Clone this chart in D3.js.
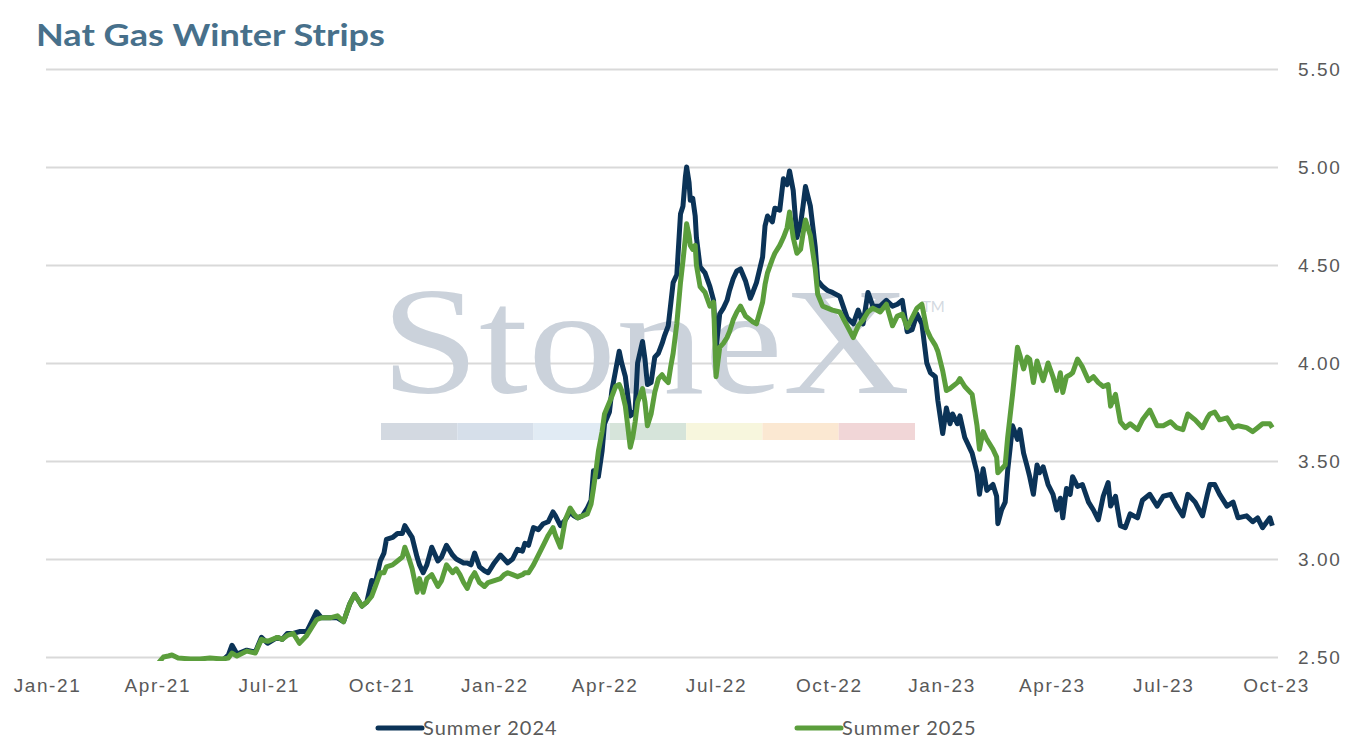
<!DOCTYPE html>
<html>
<head>
<meta charset="utf-8">
<script src="https://cdn.jsdelivr.net/npm/d3@7"></script>
<style>
  body { margin: 0; background: #fff; }
  svg { display: block; font-family: Lato, "Noto Sans", sans-serif; }
  .axis text { fill: #595959; font-size: 19px; letter-spacing: 1.6px; }
  .axis .domain { display: none; }
</style>
</head>
<body>
<div id="chart"></div>
<script>
// values
const dates = [
  "2021-04-02","2021-04-06","2021-04-10","2021-04-13","2021-04-18","2021-04-28","2021-05-06","2021-05-14",
  "2021-05-24","2021-05-29","2021-06-01","2021-06-05","2021-06-13","2021-06-20","2021-06-25","2021-06-30",
  "2021-07-08","2021-07-12","2021-07-16","2021-07-21","2021-07-26","2021-08-01","2021-08-09","2021-08-13",
  "2021-08-20","2021-08-26","2021-08-31","2021-09-05","2021-09-09","2021-09-15","2021-09-19","2021-09-23",
  "2021-09-26","2021-09-30","2021-10-03","2021-10-05","2021-10-10","2021-10-14","2021-10-18","2021-10-20",
  "2021-10-23","2021-10-26","2021-10-30","2021-11-01","2021-11-04","2021-11-07","2021-11-11","2021-11-16",
  "2021-11-19","2021-11-23","2021-11-28","2021-12-01","2021-12-04","2021-12-07","2021-12-10","2021-12-13",
  "2021-12-16","2021-12-20","2021-12-24","2021-12-27","2022-01-01","2022-01-06","2022-01-09","2022-01-12",
  "2022-01-16","2022-01-20","2022-01-24","2022-01-26","2022-01-29","2022-02-02","2022-02-06","2022-02-10",
  "2022-02-14","2022-02-18","2022-02-20","2022-02-24","2022-02-28","2022-03-04","2022-03-07","2022-03-10",
  "2022-03-14","2022-03-18","2022-03-21","2022-03-23","2022-03-25","2022-03-27","2022-03-30","2022-04-01",
  "2022-04-05","2022-04-07","2022-04-10","2022-04-13","2022-04-15","2022-04-18","2022-04-22","2022-04-24",
  "2022-04-26","2022-04-28","2022-05-02","2022-05-04","2022-05-06","2022-05-09","2022-05-12","2022-05-15",
  "2022-05-18","2022-05-20","2022-05-23","2022-05-25","2022-05-27","2022-05-30","2022-06-02","2022-06-04",
  "2022-06-06","2022-06-07","2022-06-09","2022-06-10","2022-06-12","2022-06-14","2022-06-15","2022-06-18",
  "2022-06-22","2022-06-26","2022-06-29","2022-07-01","2022-07-04","2022-07-07","2022-07-10","2022-07-12",
  "2022-07-15","2022-07-18","2022-07-21","2022-07-25","2022-07-29","2022-07-31","2022-08-03","2022-08-08",
  "2022-08-10","2022-08-12","2022-08-16","2022-08-18","2022-08-22","2022-08-25","2022-08-28","2022-08-30",
  "2022-09-02","2022-09-05","2022-09-08","2022-09-10","2022-09-12","2022-09-16","2022-09-20","2022-09-22",
  "2022-09-26","2022-09-30","2022-10-04","2022-10-10","2022-10-16","2022-10-21","2022-10-25","2022-10-29",
  "2022-11-02","2022-11-06","2022-11-12","2022-11-17","2022-11-22","2022-11-26","2022-11-30","2022-12-04",
  "2022-12-08","2022-12-12","2022-12-16","2022-12-20","2022-12-23","2022-12-27","2022-12-29","2023-01-02",
  "2023-01-05","2023-01-08","2023-01-10","2023-01-14","2023-01-16","2023-01-20","2023-01-26","2023-01-30",
  "2023-02-01","2023-02-04","2023-02-07","2023-02-12","2023-02-15","2023-02-16","2023-02-19","2023-02-22",
  "2023-02-24","2023-02-28","2023-03-04","2023-03-06","2023-03-09","2023-03-12","2023-03-14","2023-03-17",
  "2023-03-20","2023-03-22","2023-03-25","2023-03-29","2023-04-02","2023-04-05","2023-04-08","2023-04-10",
  "2023-04-13","2023-04-16","2023-04-18","2023-04-22","2023-04-26","2023-05-01","2023-05-05","2023-05-09",
  "2023-05-13","2023-05-17","2023-05-19","2023-05-23","2023-05-27","2023-05-31","2023-06-04","2023-06-10",
  "2023-06-14","2023-06-20","2023-06-26","2023-07-01","2023-07-07","2023-07-12","2023-07-17","2023-07-21",
  "2023-07-27","2023-08-02","2023-08-06","2023-08-08","2023-08-12","2023-08-16","2023-08-22","2023-08-27",
  "2023-08-31","2023-09-07","2023-09-12","2023-09-16","2023-09-20","2023-09-26","2023-09-28"
];

const summer2024 = [
  2.40,2.41,2.42,2.42,2.42,2.43,2.44,2.45,
  2.48,2.51,2.56,2.515,2.535,2.525,2.60,2.57,
  2.60,2.59,2.62,2.62,2.63,2.63,2.73,2.70,
  2.70,2.70,2.68,2.77,2.82,2.76,2.78,2.89,
  2.88,2.99,3.03,3.10,3.11,3.13,3.13,3.17,
  3.14,3.11,3.01,2.97,2.93,2.97,3.06,2.99,
  3.01,3.07,3.02,3.00,2.99,2.98,2.98,2.97,
  3.03,2.96,2.94,2.93,2.98,3.02,3.00,2.98,
  3.00,3.05,3.04,3.08,3.07,3.16,3.15,3.18,
  3.19,3.24,3.22,3.17,3.20,3.24,3.22,3.21,
  3.22,3.26,3.30,3.45,3.43,3.42,3.55,3.69,
  3.75,3.86,3.96,4.06,4.00,3.93,3.73,3.74,
  3.76,4.00,4.11,4.02,3.89,3.90,4.03,4.05,
  4.10,4.14,4.19,4.30,4.41,4.45,4.76,4.80,
  4.95,5.00,4.92,4.83,4.84,4.75,4.64,4.49,
  4.46,4.39,4.32,4.07,4.25,4.28,4.32,4.37,
  4.43,4.47,4.48,4.42,4.33,4.36,4.41,4.54,
  4.70,4.75,4.72,4.79,4.78,4.94,4.91,4.98,
  4.88,4.64,4.71,4.80,4.90,4.80,4.59,4.42,
  4.39,4.37,4.36,4.34,4.23,4.20,4.27,4.20,
  4.36,4.29,4.29,4.32,4.29,4.30,4.32,4.16,
  4.17,4.25,4.20,4.00,3.95,3.93,3.81,3.64,
  3.77,3.69,3.74,3.69,3.73,3.62,3.54,3.44,
  3.33,3.46,3.35,3.38,3.32,3.18,3.25,3.29,
  3.45,3.68,3.61,3.66,3.54,3.47,3.42,3.33,
  3.48,3.44,3.47,3.38,3.33,3.25,3.31,3.21,
  3.36,3.33,3.42,3.37,3.38,3.29,3.25,3.20,
  3.32,3.39,3.27,3.32,3.17,3.16,3.23,3.21,
  3.30,3.33,3.27,3.32,3.33,3.27,3.22,3.33,
  3.29,3.22,3.33,3.38,3.38,3.33,3.27,3.29,
  3.21,3.22,3.19,3.21,3.16,3.21,3.17
];

const summer2025 = [
  2.47,2.50,2.505,2.51,2.495,2.49,2.49,2.495,
  2.49,2.495,2.52,2.505,2.53,2.52,2.59,2.58,
  2.60,2.59,2.61,2.62,2.57,2.61,2.69,2.70,
  2.70,2.71,2.68,2.77,2.82,2.76,2.78,2.81,
  2.86,2.93,2.93,2.96,2.97,2.99,3.01,3.06,
  3.01,2.95,2.83,2.90,2.83,2.90,2.92,2.86,
  2.89,2.97,2.93,2.95,2.92,2.88,2.85,2.90,
  2.93,2.88,2.86,2.88,2.89,2.90,2.92,2.93,
  2.92,2.91,2.92,2.93,2.93,2.97,3.02,3.07,
  3.12,3.16,3.12,3.06,3.20,3.26,3.23,3.21,
  3.22,3.23,3.28,3.36,3.45,3.55,3.65,3.74,
  3.80,3.83,3.88,3.89,3.86,3.78,3.57,3.62,
  3.70,3.80,3.87,3.80,3.68,3.74,3.85,3.92,
  3.94,3.92,3.90,3.98,4.05,4.20,4.41,4.52,
  4.64,4.71,4.65,4.60,4.58,4.60,4.50,4.39,
  4.36,4.29,4.31,3.93,4.08,4.10,4.13,4.16,
  4.22,4.26,4.29,4.24,4.22,4.21,4.20,4.31,
  4.40,4.46,4.53,4.56,4.60,4.64,4.69,4.77,
  4.64,4.56,4.58,4.66,4.73,4.65,4.48,4.35,
  4.29,4.28,4.27,4.26,4.19,4.13,4.19,4.22,
  4.26,4.28,4.26,4.30,4.19,4.24,4.25,4.18,
  4.23,4.28,4.30,4.17,4.13,4.09,4.06,3.96,
  3.86,3.87,3.88,3.90,3.92,3.88,3.84,3.68,
  3.56,3.65,3.61,3.56,3.52,3.44,3.46,3.48,
  3.62,3.84,4.08,4.04,3.97,4.03,4.02,3.90,
  4.01,3.97,3.91,4.00,3.93,3.86,3.95,3.85,
  3.93,3.94,3.95,4.02,3.98,3.91,3.93,3.90,
  3.88,3.89,3.78,3.84,3.70,3.67,3.69,3.66,
  3.71,3.76,3.68,3.68,3.70,3.67,3.66,3.74,
  3.71,3.67,3.72,3.74,3.75,3.71,3.72,3.67,
  3.68,3.67,3.65,3.67,3.69,3.69,3.67
];

const yTicks = [2.5, 3.0, 3.5, 4.0, 4.5, 5.0, 5.5];
const xTicks = ["2021-01-01","2021-04-01","2021-07-01","2021-10-01","2022-01-01","2022-04-01",
  "2022-07-01","2022-10-01","2023-01-01","2023-04-01","2023-07-01","2023-10-01"];
const seriesNames = ["Summer 2024", "Summer 2025"];
const seriesColors = ["#0b3357", "#5b9e3c"];
const watermarkColors = ["#d3d9e1","#d6dfea","#e1ebf4","#d6e4da","#f7f6dd","#fbe8d2","#f1d6d7"];

const width = 1356, height = 748;
const parse = d3.timeParse("%Y-%m-%d");

const svg = d3.select("#chart").append("svg")
  .attr("width", width)
  .attr("height", height);

svg.append("text")
  .attr("x", 36).attr("y", 46)
  .attr("textLength", 349)
  .attr("lengthAdjust", "spacingAndGlyphs")
  .style("font-size", "31px")
  .style("font-weight", 700)
  .style("fill", "#47708b")
  .text("Nat Gas Winter Strips");

const x = d3.scaleTime()
  .domain([parse("2021-01-01"), parse("2023-10-01")])
  .range([47, 1276]);

const y = d3.scaleLinear()
  .domain([2.5, 5.5])
  .range([657, 69]);

// grid + right axis
const yAxis = d3.axisRight(y)
  .tickValues(yTicks)
  .tickFormat(d3.format(".2f"))
  .tickSize(-(1278 - 46))
  .tickPadding(20);

svg.append("g")
  .attr("class", "axis")
  .attr("transform", "translate(1278,0)")
  .call(yAxis)
  .call(g => g.selectAll(".tick line").attr("stroke", "#d9d9d9").attr("stroke-width", 2))
  .call(g => g.selectAll(".tick text").attr("dy", "0.36em"));

const xAxis = d3.axisBottom(x)
  .tickValues(xTicks.map(parse))
  .tickFormat(d3.timeFormat("%b-%y"))
  .tickSize(0)
  .tickPadding(22);

svg.append("g")
  .attr("class", "axis")
  .attr("transform", "translate(0,657)")
  .call(xAxis);

// faint watermark behind the lines
const wm = svg.append("g");
wm.append("text")
  .attr("x", 381).attr("y", 393)
  .attr("textLength", 529)
  .attr("lengthAdjust", "spacingAndGlyphs")
  .style("font-family", "'Liberation Serif', 'DejaVu Serif', serif")
  .style("font-size", "152px")
  .style("fill", "#cbd2db")
  .text("StoneX");
wm.append("text")
  .attr("x", 922).attr("y", 312)
  .style("font-size", "15px")
  .style("fill", "#d3d9e1")
  .text("TM");
const band = d3.scaleBand().domain(d3.range(watermarkColors.length)).range([381, 915]);
wm.selectAll("rect")
  .data(watermarkColors)
  .join("rect")
  .attr("x", (d, i) => band(i))
  .attr("y", 423)
  .attr("width", band.bandwidth())
  .attr("height", 17)
  .attr("fill", d => d);

svg.append("clipPath").attr("id", "plot")
  .append("rect").attr("x", 40).attr("y", 60).attr("width", 1245).attr("height", 601);

const rows = dates.map((d, i) => ({ date: parse(d), a: summer2024[i], b: summer2025[i] }));

const line = key => d3.line()
  .x(d => x(d.date))
  .y(d => y(d[key]));

const lines = svg.append("g").attr("clip-path", "url(#plot)");
lines.append("path")
  .datum(rows)
  .attr("fill", "none")
  .attr("stroke", seriesColors[0])
  .attr("stroke-width", 5)
  .attr("stroke-linejoin", "round")
  .attr("d", line("a"));
lines.append("path")
  .datum(rows)
  .attr("fill", "none")
  .attr("stroke", seriesColors[1])
  .attr("stroke-width", 5)
  .attr("stroke-linejoin", "round")
  .attr("d", line("b"));

// legend
const legendX = [378, 797];
const legend = svg.append("g").selectAll("g")
  .data(seriesNames)
  .join("g")
  .attr("transform", (d, i) => `translate(${legendX[i]},728)`);
legend.append("line")
  .attr("x1", 0).attr("x2", 44)
  .attr("stroke", (d, i) => seriesColors[i])
  .attr("stroke-width", 5)
  .attr("stroke-linecap", "round");
legend.append("text")
  .attr("x", 45).attr("dy", "0.36em")
  .style("font-size", "20px")
  .style("letter-spacing", "1px")
  .style("fill", "#595959")
  .text(d => d);
</script>
</body>
</html>
